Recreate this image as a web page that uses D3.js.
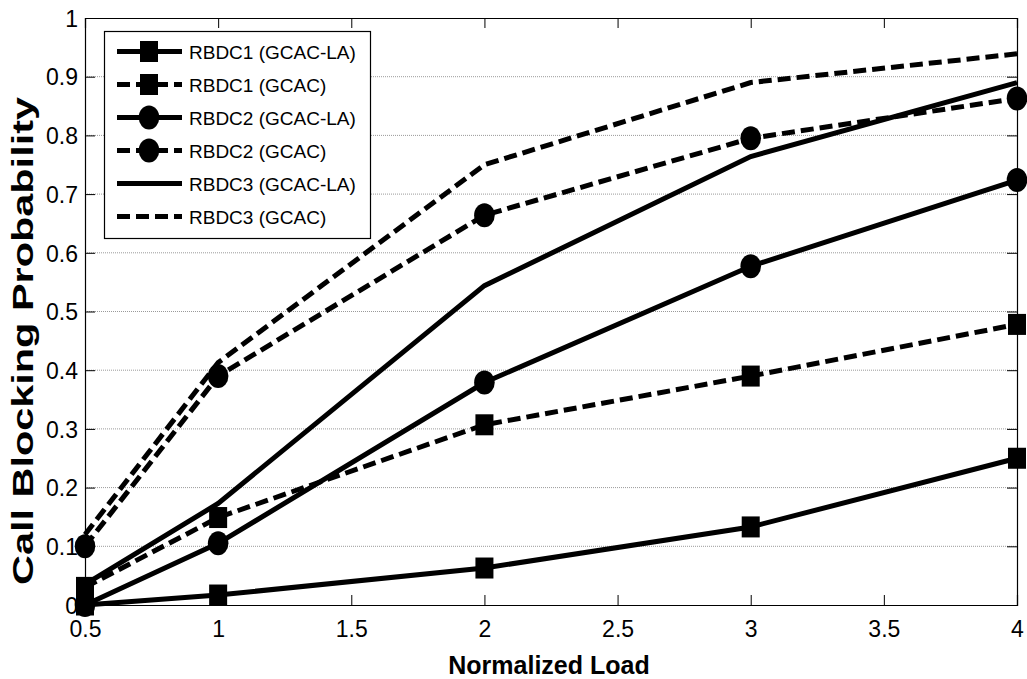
<!DOCTYPE html>
<html>
<head>
<meta charset="utf-8">
<script src="https://cdn.jsdelivr.net/npm/d3@7"></script>
<style>
  html, body { margin: 0; padding: 0; background: #fff; }
  svg { display: block; }
  text { font-family: "Liberation Sans", Arial, sans-serif; fill: #000; }
</style>
</head>
<body>
<svg id="chart" width="1027" height="679"></svg>
<script>
// ---- data ----
const loads = [0.5, 1, 2, 3, 4];
const rbdc1LA   = [0.000, 0.017, 0.063, 0.133, 0.250];
const rbdc1GCAC = [0.030, 0.149, 0.307, 0.390, 0.478];
const rbdc2LA   = [0.000, 0.105, 0.379, 0.577, 0.724];
const rbdc2GCAC = [0.100, 0.390, 0.664, 0.795, 0.863];
const rbdc3LA   = [0.035, 0.173, 0.544, 0.764, 0.890];
const rbdc3GCAC = [0.120, 0.413, 0.750, 0.890, 0.939];
const seriesNames = ["RBDC1 (GCAC-LA)", "RBDC1 (GCAC)", "RBDC2 (GCAC-LA)", "RBDC2 (GCAC)", "RBDC3 (GCAC-LA)", "RBDC3 (GCAC)"];
const xTicks = [0.5, 1, 1.5, 2, 2.5, 3, 3.5, 4];
const yTicks = [0, 0.1, 0.2, 0.3, 0.4, 0.5, 0.6, 0.7, 0.8, 0.9, 1];
const xTitle = "Normalized Load";
const yTitle = "Call Blocking Probability";

(function () {
// ---- styling ----
const seriesValues = [rbdc1LA, rbdc1GCAC, rbdc2LA, rbdc2GCAC, rbdc3LA, rbdc3GCAC];
const markers = ["square", "square", "circle", "circle", "none", "none"];
const dashed  = [false, true, false, true, false, true];
const series = seriesNames.map((name, i) => ({
  name, marker: markers[i], dashed: dashed[i],
  points: loads.map((xv, j) => ({ x: xv, y: seriesValues[i][j] }))
}));

const L = 85, R = 1017, T = 18, B = 605;
const svg = d3.select("#chart");
const x = d3.scaleLinear().domain([0.5, 4]).range([L, R]);
const y = d3.scaleLinear().domain([0, 1]).range([B, T]);

const DASH = "13,6";
const LW = 5;

// grid lines (horizontal dotted)
svg.append("g").selectAll("line").data(yTicks.filter(v => v > 0 && v < 1)).join("line")
  .attr("x1", L).attr("x2", R)
  .attr("y1", d => y(d)).attr("y2", d => y(d))
  .attr("stroke", "#9a9a9a").attr("stroke-width", 1).attr("stroke-dasharray", "1,1");

// axes
const tickLen = 10;
const fmt = d => d3.format("")(d);
const axBottom = svg.append("g").attr("transform", `translate(0,${B})`)
  .call(d3.axisBottom(x).tickValues(xTicks).tickSize(-tickLen).tickPadding(18).tickFormat(fmt));
const axTop = svg.append("g").attr("transform", `translate(0,${T})`)
  .call(d3.axisTop(x).tickValues(xTicks).tickSize(-tickLen).tickFormat(""));
const axLeft = svg.append("g").attr("transform", `translate(${L},0)`)
  .call(d3.axisLeft(y).tickValues(yTicks).tickSize(-tickLen).tickPadding(17).tickFormat(fmt));
const axRight = svg.append("g").attr("transform", `translate(${R},0)`)
  .call(d3.axisRight(y).tickValues(yTicks).tickSize(-tickLen).tickFormat(""));
[axBottom, axTop, axLeft, axRight].forEach(g => {
  g.selectAll("path.domain").attr("stroke", "#000").attr("stroke-width", 1.2);
  g.selectAll(".tick line").attr("stroke", "#000").attr("stroke-width", 1);
  g.selectAll("text").style("font-family", '"Liberation Sans", Arial, sans-serif')
    .style("font-size", "23px").attr("fill", "#000");
});
axBottom.selectAll(".tick text").attr("dy", "0.71em").attr("y", 16);
axLeft.selectAll(".tick text").attr("x", -7).attr("dy", "0.36em");

// titles
svg.append("text").attr("x", (L + R) / 2 - 2).attr("y", 674)
  .attr("text-anchor", "middle").style("font-size", "25px").style("font-weight", "bold")
  .text(xTitle);
svg.append("text").attr("transform", "translate(33,341) rotate(-90)")
  .attr("text-anchor", "middle").style("font-size", "30px").style("font-weight", "bold")
  .attr("textLength", 488).attr("lengthAdjust", "spacingAndGlyphs")
  .text(yTitle);

// lines
const line = d3.line().x(d => x(d.x)).y(d => y(d.y));
const plot = svg.append("g");
function drawMarker(g, type, cx, cy) {
  if (type === "square") {
    g.append("rect").attr("x", cx - 9).attr("y", cy - 10.5).attr("width", 18).attr("height", 21).attr("fill", "#000");
  } else if (type === "circle") {
    g.append("ellipse").attr("cx", cx).attr("cy", cy).attr("rx", 10.3).attr("ry", 12).attr("fill", "#000");
  }
}
series.forEach(s => {
  const g = plot.append("g");
  g.append("path").datum(s.points).attr("d", line)
    .attr("fill", "none").attr("stroke", "#000").attr("stroke-width", LW)
    .attr("stroke-linejoin", "miter")
    .attr("stroke-dasharray", s.dashed ? DASH : null);
  s.points.forEach(p => drawMarker(g, s.marker, x(p.x), y(p.y)));
});

// legend
const lg = svg.append("g");
lg.append("rect").attr("x", 104.5).attr("y", 31.5).attr("width", 266).attr("height", 207)
  .attr("fill", "#fff").attr("stroke", "#000").attr("stroke-width", 1.2);
series.forEach((s, i) => {
  const ry = 51.5 + i * 33;
  lg.append("line").attr("x1", 117).attr("x2", 182).attr("y1", ry).attr("y2", ry)
    .attr("stroke", "#000").attr("stroke-width", LW)
    .attr("stroke-dasharray", s.dashed ? DASH : null);
  drawMarker(lg, s.marker, 149, ry);
  lg.append("text").attr("x", 189).attr("y", ry + 7.5).style("font-size", "19px").text(s.name);
});
})();
</script>
</body>
</html>
